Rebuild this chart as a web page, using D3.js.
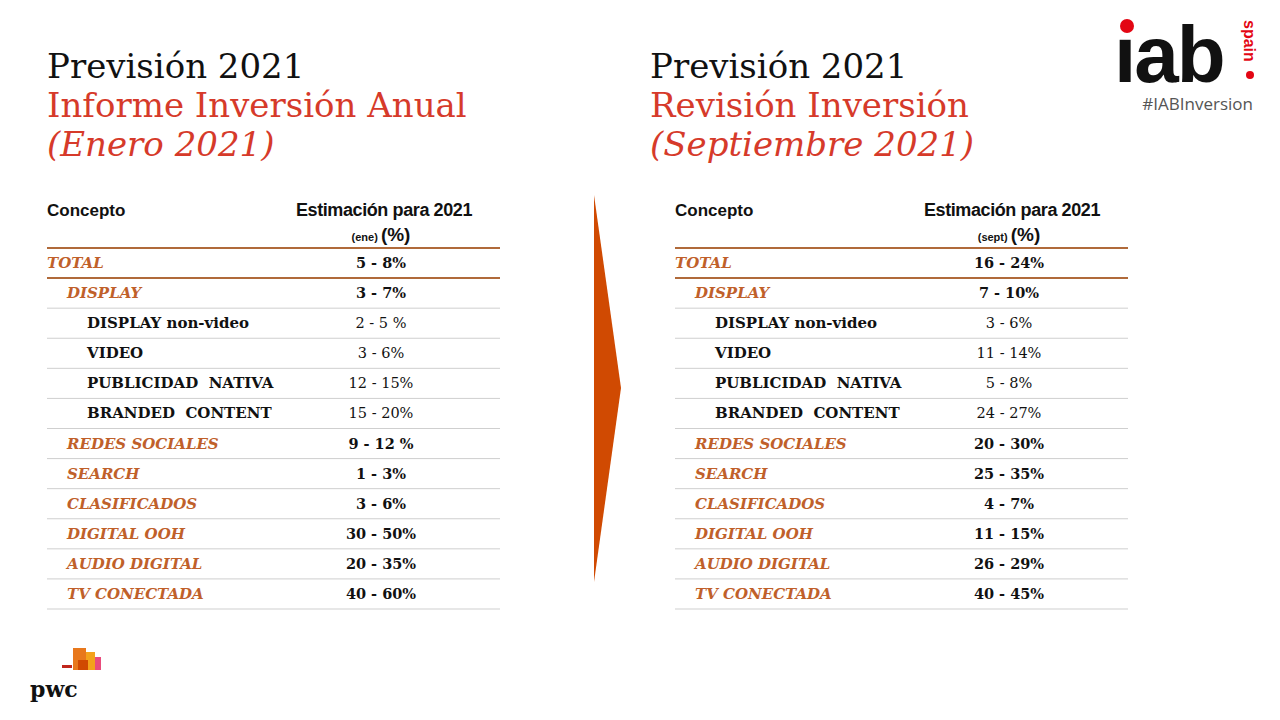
<!DOCTYPE html>
<html><head><meta charset="utf-8">
<script src="https://cdn.jsdelivr.net/npm/d3@7"></script>
<style>body{margin:0;background:#fff}</style>
</head><body>
<svg id="c" width="1280" height="720"></svg>
<script>
// concepts: [label, indent level]
const concepts = [
  ["TOTAL", 0], ["DISPLAY", 1], ["DISPLAY non-video", 2], ["VIDEO", 2],
  ["PUBLICIDAD  NATIVA", 2], ["BRANDED  CONTENT", 2], ["REDES SOCIALES", 1],
  ["SEARCH", 1], ["CLASIFICADOS", 1], ["DIGITAL OOH", 1], ["AUDIO DIGITAL", 1], ["TV CONECTADA", 1]
];
const eneValues = ["5 - 8%", "3 - 7%", "2 - 5 %", "3 - 6%", "12 - 15%", "15 - 20%", "9 - 12 %", "1 - 3%", "3 - 6%", "30 - 50%", "20 - 35%", "40 - 60%"];
const septValues = ["16 - 24%", "7 - 10%", "3 - 6%", "11 - 14%", "5 - 8%", "24 - 27%", "20 - 30%", "25 - 35%", "4 - 7%", "11 - 15%", "26 - 29%", "40 - 45%"];
const panels = [
  {x: 47, tx: 47, sub: "Informe Inversión Anual", date: "(Enero 2021)", tag: "(ene)", values: eneValues},
  {x: 675, tx: 650, sub: "Revisión Inversión", date: "(Septiembre 2021)", tag: "(sept)", values: septValues}
];

const svg = d3.select("#c");
const serif = "Georgia, 'DejaVu Serif', serif";
const sans = "Arial, 'Liberation Sans', sans-serif";
const red = "#d63a2a", orange = "#c0602a";

const y = d3.scaleBand().domain(d3.range(concepts.length)).range([248, 609]);

panels.forEach(p => {
  const tg = svg.append("g").attr("transform", `translate(${p.tx},0)`)
    .attr("font-family", "'DejaVu Serif', serif").attr("font-size", 34);
  tg.append("text").attr("y", 78).attr("fill", "#111").text("Previsión 2021");
  tg.append("text").attr("y", 117).attr("fill", red).text(p.sub);
  tg.append("text").attr("y", 156).attr("font-style", "italic").attr("fill", red).text(p.date);

  const g = svg.append("g").attr("transform", `translate(${p.x},0)`);
  const w = 453, cx = 334;
  g.append("text").attr("x", 0).attr("y", 216).attr("font-family", sans).attr("font-weight", "bold")
    .attr("font-size", 17).attr("fill", "#111").text("Concepto");
  g.append("text").attr("x", 337).attr("y", 216).attr("text-anchor", "middle").attr("font-family", sans)
    .attr("font-weight", "bold").attr("font-size", 18).attr("letter-spacing", -0.4).attr("fill", "#111").text("Estimación para 2021");
  const t = g.append("text").attr("x", cx).attr("y", 241).attr("text-anchor", "middle")
    .attr("font-family", sans).attr("font-weight", "bold").attr("fill", "#111");
  t.append("tspan").attr("font-size", 11).text(p.tag + " ");
  t.append("tspan").attr("font-size", 19).text("(%)");

  concepts.forEach((c, i) => {
    const yy = y(i), mid = yy + y.bandwidth() / 2 + 5;
    const cat = c[1] < 2;
    g.append("text").attr("x", c[1] * 20).attr("y", mid).attr("font-family", serif)
      .attr("font-size", 15).attr("font-weight", "bold").attr("font-style", cat ? "italic" : "normal")
      .attr("fill", cat ? orange : "#111").attr("xml:space", "preserve").text(c[0]);
    g.append("text").attr("x", cx).attr("y", mid).attr("text-anchor", "middle").attr("font-family", serif)
      .attr("font-size", 14.5).attr("font-weight", cat ? "bold" : "normal").attr("fill", "#111").text(p.values[i]);
    g.append("line").attr("x1", 0).attr("x2", w).attr("y1", yy + y.bandwidth()).attr("y2", yy + y.bandwidth())
      .attr("stroke", i === 0 ? "#b06a3a" : "#cfcfcf").attr("stroke-width", i === 0 ? 2 : 1);
  });
  g.append("line").attr("x1", 0).attr("x2", w).attr("y1", 248).attr("y2", 248).attr("stroke", "#b06a3a").attr("stroke-width", 2);
});

// arrow
svg.append("path").attr("d", "M594,195 L621,388 L594,582 Z").attr("fill", "#d04a02");

// iab logo
const lg = svg.append("g");
lg.append("circle").attr("cx", 1127).attr("cy", 26).attr("r", 7).attr("fill", "#e30613");
lg.append("text").attr("x", 1114).attr("y", 82).attr("font-family", sans)
  .attr("font-weight", "bold").attr("font-size", 80).attr("letter-spacing", -2).attr("fill", "#111").text("ıab");
lg.append("text").attr("transform", "translate(1244,20) rotate(90)").attr("font-family", sans)
  .attr("font-weight", "bold").attr("font-size", 16).attr("fill", "#e30613").text("spain");
lg.append("circle").attr("cx", 1250).attr("cy", 75).attr("r", 4).attr("fill", "#e30613");
lg.append("text").attr("x", 1253).attr("y", 110).attr("text-anchor", "end").attr("font-family", "'Open Sans', sans-serif")
  .attr("font-size", 17).attr("fill", "#555").text("#IABInversion");

// pwc logo
const pw = svg.append("g");
[[62, 665, 10, 3, "#c0261c"], [73, 648, 13, 22, "#e8781c"], [86, 652, 9, 18, "#f3a21c"], [95, 657, 6, 13, "#e94c7c"], [78, 660, 10, 10, "#d04a02"]]
  .forEach(r => pw.append("rect").attr("x", r[0]).attr("y", r[1]).attr("width", r[2]).attr("height", r[3]).attr("fill", r[4]));
pw.append("text").attr("x", 30).attr("y", 697).attr("font-family", "'DejaVu Serif', serif").attr("font-weight", "bold")
  .attr("font-size", 22).attr("fill", "#111").text("pwc");
</script>
</body></html>
